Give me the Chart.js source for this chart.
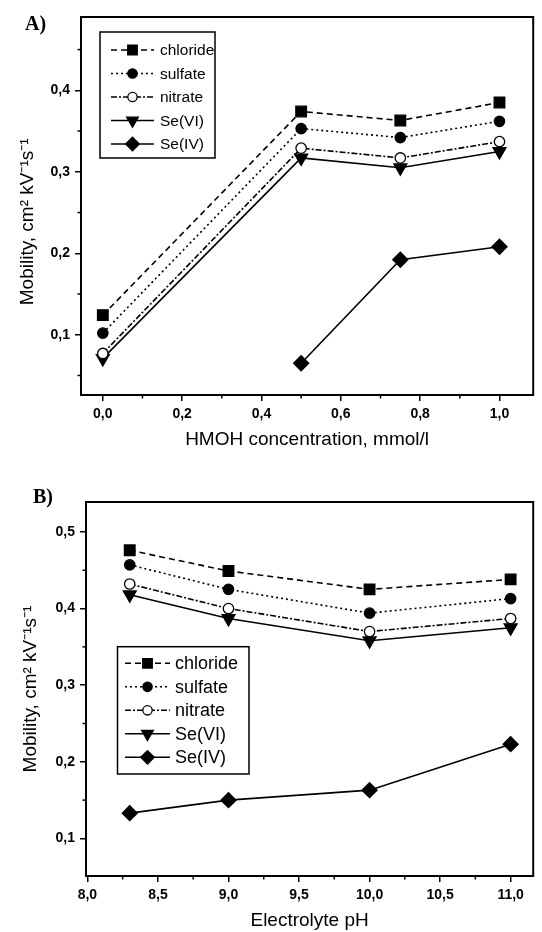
<!DOCTYPE html>
<html><head><meta charset="utf-8">
<script src="https://cdn.jsdelivr.net/npm/chart.js@4/dist/chart.umd.min.js"></script>
<style>
html,body{margin:0;padding:0;background:#fff;width:542px;height:932px;overflow:hidden}
canvas{position:absolute;left:0;display:block}
#ca{top:0}
#cb{top:470px}
.lab{position:absolute;font:bold 20px "Liberation Serif","Times New Roman",serif;color:#000;line-height:20px}
</style></head><body>
<canvas id="ca" width="542" height="470" style="width:542px;height:470px"></canvas>
<canvas id="cb" width="542" height="462" style="width:542px;height:462px"></canvas>
<div class="lab" style="left:25px;top:13px">A)</div>
<div class="lab" style="left:33px;top:486px">B)</div>
<script>
// ---------- data ----------
const seriesNames = ['chloride', 'sulfate', 'nitrate', 'Se(VI)', 'Se(IV)'];

const hmohConc = [0, 0.5, 0.75, 1.0];
const chlorideA = [0.124, 0.374, 0.363, 0.385];
const sulfateA  = [0.102, 0.353, 0.342, 0.362];
const nitrateA  = [0.077, 0.329, 0.317, 0.337];
const seVIA     = [0.071, 0.317, 0.305, 0.325];
const seIVA     = [null, 0.065, 0.192, 0.208];

const electrolytePH = [8.3, 9.0, 10.0, 11.0];
const chlorideB = [0.476, 0.449, 0.425, 0.438];
const sulfateB  = [0.457, 0.425, 0.394, 0.413];
const nitrateB  = [0.432, 0.400, 0.370, 0.387];
const seVIB     = [0.418, 0.387, 0.358, 0.375];
const seIVB     = [0.133, 0.150, 0.163, 0.223];

const xTicksA = [0, 0.2, 0.4, 0.6, 0.8, 1.0];
const yTicksA = [0.1, 0.2, 0.3, 0.4];
const xTicksB = [8.0, 8.5, 9.0, 9.5, 10.0, 10.5, 11.0];
const yTicksB = [0.1, 0.2, 0.3, 0.4, 0.5];

const xTitleA = 'HMOH concentration, mmol/l';
const xTitleB = 'Electrolyte pH';
const yTitle = 'Mobility, cm\u00B2 kV\u207B\u00B9s\u207B\u00B9';

// ---------- styles ----------
const SANS = '"Liberation Sans", Arial, Helvetica, sans-serif';
const styles = [
  {dash: [6, 4], pointStyle: 'rect', radius: 7.5, rotation: 0, fill: '#000'},
  {dash: [2, 3], pointStyle: 'circle', radius: 5.2, rotation: 0, fill: '#000'},
  {dash: [6, 2, 2, 2], pointStyle: 'circle', radius: 5.2, rotation: 0, fill: '#fff'},
  {dash: [], pointStyle: 'triangle', radius: 7.5, rotation: 180, fill: '#000'},
  {dash: [], pointStyle: 'rectRot', radius: 7.5, rotation: 0, fill: '#000'}
];

function buildDatasets(xs, seriesList) {
  return seriesList.map((vals, i) => {
    const st = styles[i];
    const pts = [];
    xs.forEach((x, j) => { if (vals[j] !== null) pts.push({x: x, y: vals[j]}); });
    return {
      label: seriesNames[i],
      data: pts,
      borderColor: '#000',
      borderWidth: 1.6,
      borderDash: st.dash,
      tension: 0,
      fill: false,
      pointStyle: st.pointStyle,
      pointRadius: st.radius,
      pointRotation: st.rotation,
      pointBackgroundColor: st.fill,
      pointBorderColor: '#000',
      pointBorderWidth: 1.3,
      pointHoverRadius: st.radius
    };
  });
}

const fmt = v => Number(v).toFixed(1).replace('.', ',');

// frame + minor ticks plugin
const framePlugin = {
  id: 'frameMinor',
  afterDraw(chart) {
    const ctx = chart.ctx, a = chart.chartArea;
    ctx.save();
    ctx.strokeStyle = '#000';
    ctx.lineWidth = 2;
    ctx.setLineDash([]);
    ctx.strokeRect(a.left, a.top, a.right - a.left, a.bottom - a.top);
    ctx.lineWidth = 1.5;
    ['x', 'y'].forEach(id => {
      const s = chart.scales[id];
      const t = s.ticks.map(k => k.value);
      if (t.length < 2) return;
      const step = t[1] - t[0];
      for (let v = t[0] - step / 2; v <= s.max + 1e-9; v += step) {
        if (v < s.min - 1e-9) continue;
        const p = s.getPixelForValue(v);
        ctx.beginPath();
        if (id === 'x') { ctx.moveTo(p, a.bottom); ctx.lineTo(p, a.bottom + 3.5); }
        else { ctx.moveTo(a.left, p); ctx.lineTo(a.left - 3.5, p); }
        ctx.stroke();
      }
    });
    ctx.restore();
  }
};

// custom legend (line sample with marker in the middle)
const legendPlugin = {
  id: 'lineLegend',
  afterDraw(chart, args, o) {
    const ctx = chart.ctx;
    ctx.save();
    ctx.strokeStyle = '#000';
    ctx.lineWidth = 1.5;
    ctx.setLineDash([]);
    ctx.strokeRect(o.box[0], o.box[1], o.box[2], o.box[3]);
    chart.data.datasets.forEach((ds, i) => {
      const y = o.row0 + i * o.rowStep;
      ctx.setLineDash(ds.borderDash || []);
      ctx.lineWidth = 1.6;
      ctx.strokeStyle = '#000';
      ctx.beginPath();
      ctx.moveTo(o.lineX0, y);
      ctx.lineTo(o.lineX1, y);
      ctx.stroke();
      ctx.setLineDash([]);
      const mx = (o.lineX0 + o.lineX1) / 2;
      ctx.fillStyle = ds.pointBackgroundColor;
      ctx.strokeStyle = '#000';
      ctx.lineWidth = ds.pointBorderWidth;
      Chart.helpers.drawPoint(ctx, {
        pointStyle: ds.pointStyle, radius: ds.pointRadius * 0.9,
        rotation: ds.pointRotation, borderWidth: ds.pointBorderWidth
      }, mx, y);
      ctx.fillStyle = '#000';
      ctx.font = o.font;
      ctx.textBaseline = 'middle';
      ctx.textAlign = 'left';
      ctx.fillText(ds.label, o.textX, y + 1);
    });
    ctx.restore();
  }
};

function axisCommon(ticksArr, titleText, titlePad, fixedSize, horizontal) {
  return {
    type: 'linear',
    afterBuildTicks: s => { s.ticks = ticksArr.map(v => ({value: v})); },
    afterFit: s => {
      if (horizontal) s.height = fixedSize; else s.width = fixedSize;
      s.paddingLeft = 0; s.paddingRight = 0; s.paddingTop = 0; s.paddingBottom = 0;
    },
    ticks: {
      callback: fmt, color: '#000', padding: 5,
      font: {family: SANS, size: 14, weight: 'bold'},
      autoSkip: false, maxRotation: 0, includeBounds: false
    },
    grid: {drawOnChartArea: false, drawTicks: true, tickLength: 6, color: '#000', lineWidth: 1.5},
    border: {display: true, color: '#000', width: 2},
    title: {
      display: true, text: titleText, color: '#000',
      font: {family: SANS, size: 19, weight: 'normal'},
      padding: titlePad
    }
  };
}

function makeChart(id, xs, series, cfg) {
  const x = axisCommon(cfg.xTicks, cfg.xTitle, {top: 0, bottom: cfg.xTitlePad}, cfg.xAxisH, true);
  x.min = cfg.xMin; x.max = cfg.xMax;
  const y = axisCommon(cfg.yTicks, cfg.yTitleText, {top: cfg.yTitlePad, bottom: 0}, cfg.yAxisW, false);
  y.min = cfg.yMin; y.max = cfg.yMax;
  return new Chart(document.getElementById(id), {
    type: 'line',
    data: {datasets: buildDatasets(xs, series)},
    options: {
      responsive: false, maintainAspectRatio: false, animation: false, devicePixelRatio: 1,
      layout: {padding: {top: cfg.padTop, right: 1, left: 0, bottom: 0}},
      scales: {x: x, y: y},
      plugins: {
        legend: {display: false}, tooltip: {enabled: false}, title: {display: false},
        lineLegend: cfg.legend
      }
    },
    plugins: [framePlugin, legendPlugin]
  });
}

makeChart('ca', hmohConc, [chlorideA, sulfateA, nitrateA, seVIA, seIVA], {
  xTicks: xTicksA, yTicks: yTicksA, xTitle: xTitleA, yTitleText: yTitle + '      ',
  xMin: -0.055, xMax: 1.085, yMin: 0.026, yMax: 0.49,
  padTop: 17, xAxisH: 75, yAxisW: 81, xTitlePad: 19, yTitlePad: 16,
  legend: {box: [100, 32, 115, 126], lineX0: 111, lineX1: 154, textX: 160,
           row0: 50, rowStep: 23.5, font: '15.5px ' + SANS}
});

makeChart('cb', electrolytePH, [chlorideB, sulfateB, nitrateB, seVIB, seIVB], {
  xTicks: xTicksB, yTicks: yTicksB, xTitle: xTitleB, yTitleText: yTitle,
  xMin: 7.99, xMax: 11.16, yMin: 0.051, yMax: 0.539,
  padTop: 32, xAxisH: 56, yAxisW: 86, xTitlePad: 0, yTitlePad: 19,
  legend: {box: [117.5, 176.7, 131.5, 127.3], lineX0: 125, lineX1: 170, textX: 175,
           row0: 193.3, rowStep: 23.5, font: '18px ' + SANS}
});
</script>
</body></html>
